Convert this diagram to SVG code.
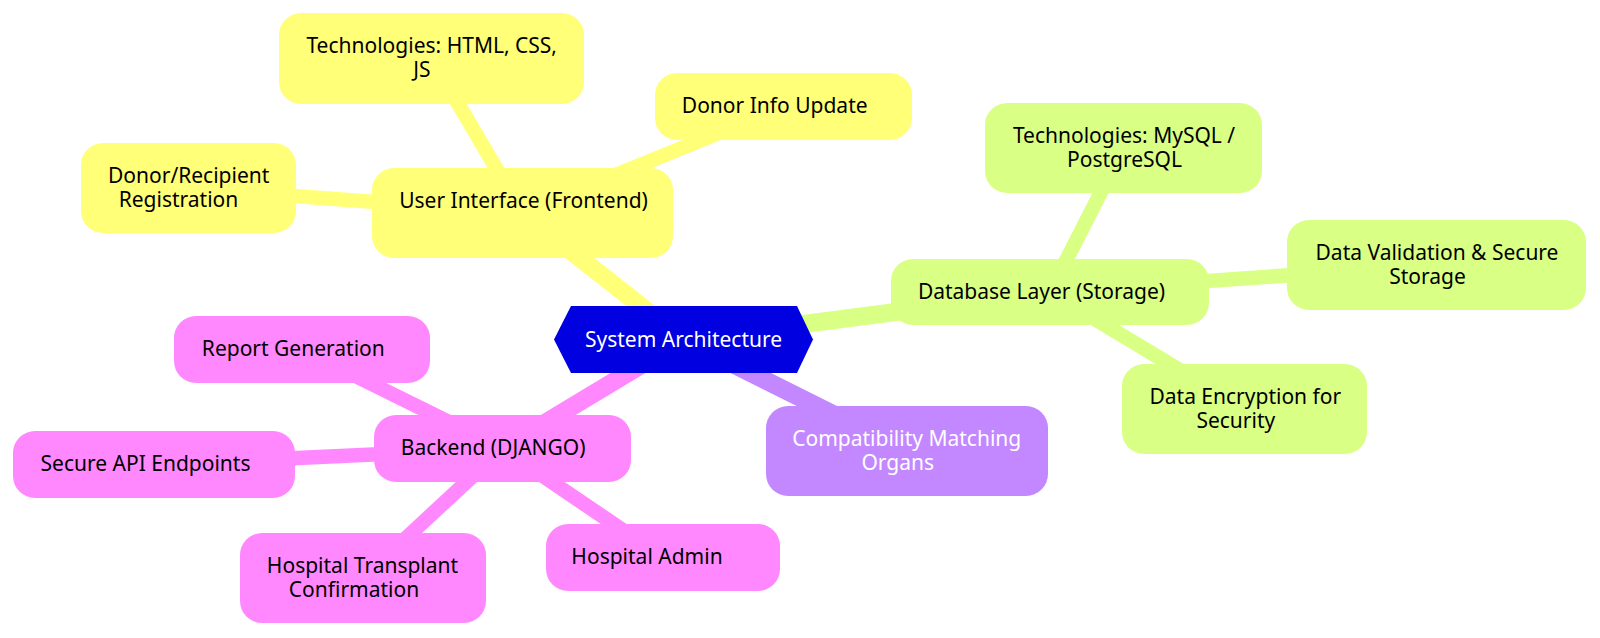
<svg xmlns="http://www.w3.org/2000/svg" width="1600" height="638" viewBox="0 0 1600 638">
<style>
  text { font-family: "Noto Sans", "Open Sans", sans-serif; font-size: 21px; text-anchor: middle; fill: #000; }
  .light { fill: #ffffff; }
  .e0 { stroke-width: 18; stroke-linecap: butt; fill: none; }
  .e1 { stroke-width: 14.5; stroke-linecap: butt; fill: none; }
  .yel { fill: #ffff78; }
  .grn { fill: #d9ff85; }
  .pur { fill: #c388ff; }
  .pnk { fill: #ff88ff; }
  .sy { stroke: #ffff78; }
  .sg { stroke: #d9ff85; }
  .sp { stroke: #c388ff; }
  .sk { stroke: #ff88ff; }
</style>
<rect width="1600" height="638" fill="#ffffff"/>
<g id="connectors">
  <line class="e0 sy" x1="683.5" y1="339.5" x2="522.5" y2="213"/>
  <line class="e0 sg" x1="683.5" y1="339.5" x2="1050" y2="292"/>
  <line class="e0 sp" x1="683.5" y1="339.5" x2="907" y2="451"/>
  <line class="e0 sk" x1="683.5" y1="339.5" x2="502.5" y2="448.5"/>
  <line class="e1 sy" x1="522.5" y1="213" x2="431.5" y2="58.5"/>
  <line class="e1 sy" x1="522.5" y1="213" x2="783.5" y2="106.5"/>
  <line class="e1 sy" x1="522.5" y1="213" x2="188.5" y2="188"/>
  <line class="e1 sg" x1="1050" y1="292" x2="1123.5" y2="148"/>
  <line class="e1 sg" x1="1050" y1="292" x2="1436.5" y2="265"/>
  <line class="e1 sg" x1="1050" y1="292" x2="1244.5" y2="409"/>
  <line class="e1 sk" x1="502.5" y1="448.5" x2="302" y2="349.5"/>
  <line class="e1 sk" x1="502.5" y1="448.5" x2="154" y2="464.5"/>
  <line class="e1 sk" x1="502.5" y1="448.5" x2="363" y2="578"/>
  <line class="e1 sk" x1="502.5" y1="448.5" x2="663" y2="557.5"/>
</g>
<g id="root">
  <polygon points="554,339.5 571,306 797,306 813,339.5 797,373 571,373" fill="#0000e0"/>
  <text class="light" x="683.5" y="347">System Architecture</text>
</g>
<g id="ui">
  <rect class="yel" x="372" y="168" width="301" height="90" rx="22"/>
  <text x="523.5" y="208">User Interface (Frontend)</text>
</g>
<g id="tech-html">
  <rect class="yel" x="279" y="13" width="305" height="91" rx="22"/>
  <text x="431.7" y="53">Technologies: HTML, CSS,</text>
  <text x="422" y="77">JS</text>
</g>
<g id="donor-info">
  <rect class="yel" x="655" y="73" width="257" height="67" rx="22"/>
  <text x="774.7" y="113">Donor Info Update</text>
</g>
<g id="registration">
  <rect class="yel" x="81" y="143" width="215" height="90" rx="22"/>
  <text x="188.7" y="183">Donor/Recipient</text>
  <text x="178.5" y="207">Registration</text>
</g>
<g id="database">
  <rect class="grn" x="891" y="259" width="318" height="66" rx="22"/>
  <text x="1041.5" y="299">Database Layer (Storage)</text>
</g>
<g id="tech-db">
  <rect class="grn" x="985" y="103" width="277" height="90" rx="22"/>
  <text x="1124" y="143">Technologies: MySQL /</text>
  <text x="1124.5" y="167">PostgreSQL</text>
</g>
<g id="validation">
  <rect class="grn" x="1287" y="220" width="299" height="90" rx="22"/>
  <text x="1437" y="260">Data Validation &amp; Secure</text>
  <text x="1427.5" y="284">Storage</text>
</g>
<g id="encryption">
  <rect class="grn" x="1122" y="364" width="245" height="90" rx="22"/>
  <text x="1245.3" y="404">Data Encryption for</text>
  <text x="1235.8" y="428">Security</text>
</g>
<g id="compatibility">
  <rect class="pur" x="766" y="406" width="282" height="90" rx="22"/>
  <text class="light" x="906.7" y="446">Compatibility Matching</text>
  <text class="light" x="897.7" y="470">Organs</text>
</g>
<g id="backend">
  <rect class="pnk" x="374" y="415" width="257" height="67" rx="22"/>
  <text x="493.2" y="455">Backend (DJANGO)</text>
</g>
<g id="report">
  <rect class="pnk" x="174" y="316" width="256" height="67" rx="22"/>
  <text x="293.3" y="356">Report Generation</text>
</g>
<g id="secure-api">
  <rect class="pnk" x="13" y="431" width="282" height="67" rx="22"/>
  <text x="145.5" y="471">Secure API Endpoints</text>
</g>
<g id="transplant">
  <rect class="pnk" x="240" y="533" width="246" height="90" rx="22"/>
  <text x="362.5" y="573">Hospital Transplant</text>
  <text x="354" y="597">Confirmation</text>
</g>
<g id="admin">
  <rect class="pnk" x="546" y="524" width="234" height="67" rx="22"/>
  <text x="647" y="564">Hospital Admin</text>
</g>
</svg>
